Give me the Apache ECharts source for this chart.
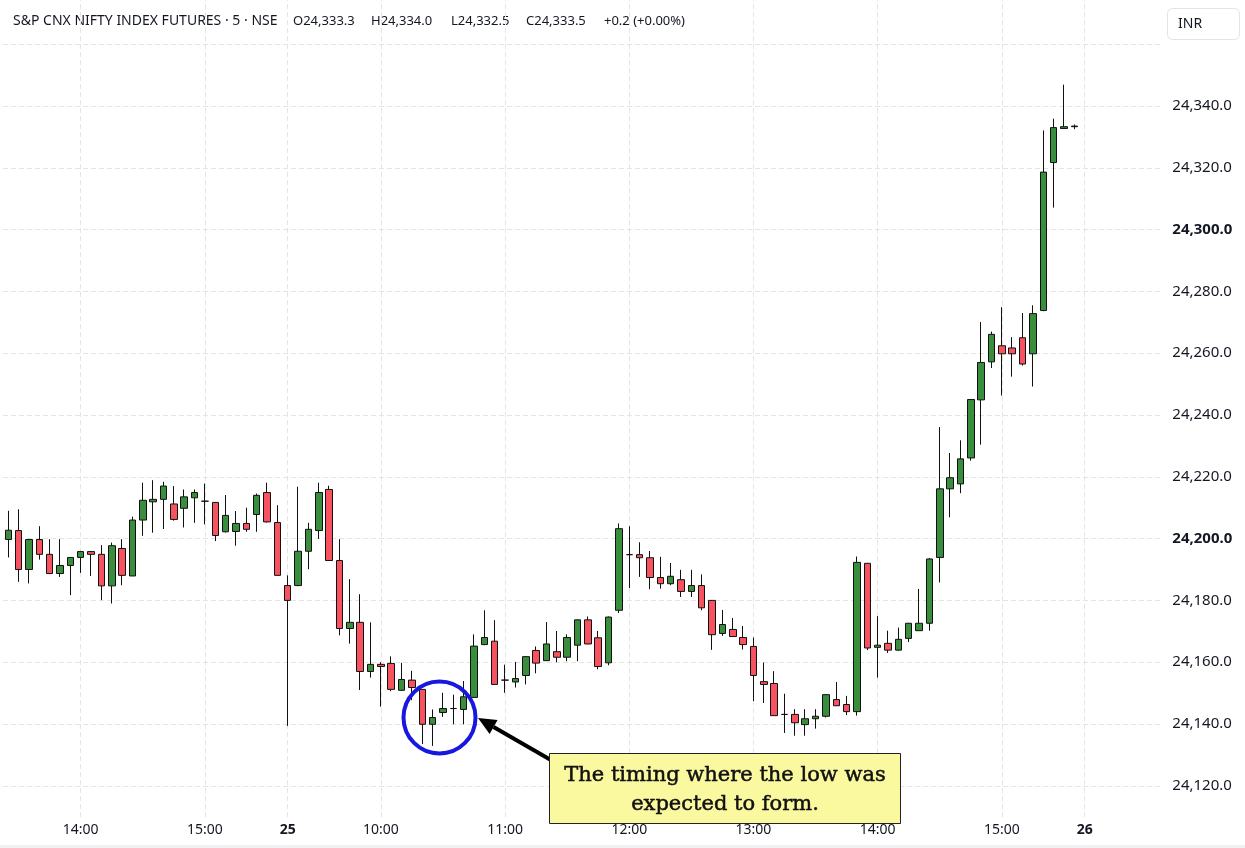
<!DOCTYPE html>
<html><head><meta charset="utf-8">
<style>html,body{margin:0;padding:0;background:#fff}#c{width:1245px;height:848px}</style>
<script src="https://cdn.jsdelivr.net/npm/echarts@6/dist/echarts.min.js"></script>
</head><body><div id="c"></div>
<script>
// sessions: [day, first bar time, number of bars]
const sessions = [['24','13:25',27],['25','09:15',77],['26','09:15',8]];
const labelTimes = ['24 14:00','24 15:00','25 09:15','25 10:00','25 11:00','25 12:00','25 13:00','25 14:00','25 15:00','26 09:15'];
const yTicks = [24120,24140,24160,24180,24200,24220,24240,24260,24280,24300,24320,24340];
const yGrid = [24120,24140,24160,24180,24200,24220,24240,24260,24280,24300,24320,24340,24360];
const lastPrice = 24333.5;
const headerParts = ['S&P CNX NIFTY INDEX FUTURES · 5 · NSE','O24,333.3','H24,334.0','L24,332.5','C24,333.5','+0.2 (+0.00%)'];

const opens = [24199.7,24202.6,24190.0,24199.7,24194.9,24188.7,24191.3,24193.9,24195.8,24194.9,
24184.7,24196.8,24187.9,24206.0,24211.9,24212.7,24211.2,24209.8,24213.2,24212.1,
24211.7,24202.2,24202.3,24204.9,24207.8,24214.9,24205.2,24184.8,24184.8,24195.9,
24202.6,24215.9,24192.9,24170.9,24172.9,24157.0,24159.3,24159.6,24150.9,24154.2,
24151.2,24139.9,24143.7,24145.0,24144.7,24148.6,24165.7,24166.8,24154.2,24153.6,
24155.7,24163.8,24160.5,24163.4,24161.6,24165.5,24173.7,24167.9,24159.8,24176.8,
24194.8,24194.8,24193.8,24187.4,24185.4,24186.7,24182.9,24184.8,24180.0,24169.3,
24170.6,24168.0,24165.1,24153.7,24153.1,24143.1,24143.1,24139.8,24141.7,24142.5,
24147.9,24146.3,24144.0,24192.0,24164.8,24166.1,24163.9,24167.7,24170.2,24172.6,
24193.9,24216.1,24217.7,24226.1,24244.9,24257.2,24262.4,24261.7,24265.0,24259.8,
24273.8,24321.7,24332.7,24333.3];
const closes = [24202.7,24190.0,24199.7,24194.9,24188.7,24191.3,24193.9,24195.8,24194.9,24184.7,
24197.7,24188.1,24206.0,24212.4,24212.7,24217.0,24206.2,24213.5,24214.9,24212.1,
24201.0,24207.5,24204.9,24203.0,24214.0,24205.4,24188.1,24180.0,24195.9,24203.0,
24214.9,24192.9,24170.9,24172.9,24157.0,24159.3,24158.6,24151.2,24154.4,24151.8,
24139.9,24142.1,24145.0,24145.0,24148.8,24165.2,24168.0,24152.8,24154.2,24154.7,
24161.8,24159.7,24165.9,24161.6,24168.0,24173.7,24165.9,24158.6,24174.6,24203.2,
24194.8,24193.8,24187.4,24185.4,24187.8,24182.9,24184.8,24177.6,24168.9,24172.2,
24168.3,24165.7,24155.7,24152.8,24142.7,24143.1,24140.4,24141.7,24142.5,24149.5,
24145.9,24144.0,24192.3,24164.6,24165.5,24163.9,24167.4,24172.6,24172.6,24193.4,
24216.1,24219.7,24225.8,24245.0,24257.0,24266.1,24259.8,24259.8,24256.5,24272.8,
24318.6,24333.0,24333.3,24333.5];
const lows = [24193.9,24186.0,24185.5,24193.2,24188.5,24187.6,24181.7,24188.9,24187.9,24180.1,
24179.0,24184.9,24187.9,24200.9,24201.9,24203.1,24205.8,24203.6,24205.1,24204.6,
24199.2,24202.0,24197.7,24202.2,24202.2,24205.2,24188.0,24139.4,24184.6,24190.1,
24199.9,24192.8,24168.7,24166.0,24151.0,24155.0,24145.6,24150.6,24150.7,24147.7,
24133.5,24132.9,24142.3,24139.9,24139.9,24148.5,24165.5,24152.7,24150.1,24151.8,
24152.8,24156.4,24160.4,24160.0,24160.3,24160.3,24165.8,24157.7,24159.0,24175.9,
24184.0,24187.6,24183.6,24183.8,24184.9,24181.1,24181.1,24176.8,24164.0,24168.5,
24168.2,24164.1,24147.4,24146.8,24142.6,24137.1,24136.2,24136.2,24138.5,24142.1,
24145.8,24142.9,24142.7,24163.9,24155.0,24163.0,24163.8,24166.5,24170.1,24170.2,
24185.8,24206.9,24214.7,24225.2,24230.4,24255.2,24246.3,24252.4,24256.0,24249.2,
24273.6,24307.1,24332.6,24332.5];
const highs = [24209.0,24209.5,24199.9,24204.0,24199.8,24199.8,24194.0,24196.0,24196.0,24197.9,
24198.7,24199.8,24207.1,24218.1,24218.9,24218.4,24217.0,24215.9,24215.9,24217.8,
24211.8,24214.1,24208.9,24210.0,24214.6,24218.1,24210.8,24188.1,24216.8,24205.1,
24218.1,24217.1,24199.8,24186.9,24182.0,24172.9,24160.0,24161.9,24159.8,24157.2,
24151.3,24144.7,24150.1,24149.5,24153.9,24169.0,24176.8,24173.6,24159.2,24160.1,
24162.0,24165.1,24173.0,24170.1,24169.0,24173.8,24174.8,24170.1,24174.8,24204.9,
24204.0,24198.8,24196.0,24194.1,24192.1,24189.9,24189.9,24188.4,24180.1,24176.9,
24174.3,24171.7,24168.0,24159.9,24157.1,24149.8,24144.8,24144.8,24144.8,24149.6,
24153.6,24149.1,24194.2,24192.1,24174.9,24170.2,24171.2,24172.7,24183.7,24193.7,
24236.1,24227.7,24231.8,24245.1,24270.1,24267.0,24274.9,24265.2,24273.0,24275.5,
24332.1,24335.9,24346.9,24334.0];

// build category keys from session structure
function pad(n){return (n<10?'0':'')+n;}
const categories = [];
sessions.forEach(([day, start, count]) => {
  let [h, m] = start.split(':').map(Number);
  let t = h*60+m;
  for (let i=0;i<count;i++){ categories.push(day+' '+pad(Math.floor(t/60))+':'+pad(t%60)); t+=5; }
});
const candleData = opens.map((o,i)=>[o, closes[i], lows[i], highs[i]]);

const fmtPrice = v => v.toLocaleString('en-US',{minimumFractionDigits:1, maximumFractionDigits:1});
const FONT = '"Noto Sans", sans-serif';
const TXT = '#131722';

// arrow geometry (annotation overlay)
const tip = [478, 718], tail = [550, 759.5];
const dx = tail[0]-tip[0], dy = tail[1]-tip[1], L = Math.hypot(dx,dy);
const ux = dx/L, uy = dy/L;
const hb = [tip[0]+ux*18, tip[1]+uy*18];
const px = -uy*8, py = ux*8;

const headerX = [13, 293, 371, 451, 526, 604];
const headerGraphics = headerParts.map((t,i) => ({
  type:'text', x: headerX[i], y: 21,
  style:{ text: t, font: (i===0 ? '14px' : '13px') + ' "Noto Sans"', fill: TXT, verticalAlign: 'middle' }
}));

const chart = echarts.init(document.getElementById('c'), null, {renderer:'canvas'});
chart.setOption({
  animation: false,
  backgroundColor: '#fff',
  grid: { left: 3.1, top: 0, width: 1159.2, bottom: 31, containLabel: false },
  xAxis: {
    type: 'category', data: categories, boundaryGap: true,
    axisLine: {show:false}, axisTick: {show:false}, splitLine: {show:false},
    axisLabel: {
      interval: (idx, val) => labelTimes.indexOf(val) >= 0,
      margin: 6, color: TXT, fontSize: 14, fontFamily: FONT,
      formatter: v => { const [d,t] = v.split(' '); return t==='09:15' ? '{b|'+d+'}' : t; },
      rich: { b: { fontWeight: 'bold', fontSize: 14, fontFamily: FONT, color: TXT } }
    }
  },
  yAxis: {
    type: 'value', position: 'right', min: 24109.9, max: 24374.3, scale: true,
    axisLine: {show:false}, axisTick: {show:false}, splitLine: {show:false},
    axisLabel: {
      customValues: yTicks, margin: 10, color: TXT, fontSize: 15, fontFamily: FONT,
      formatter: v => (Math.round(v)%100===0) ? '{b|'+fmtPrice(v)+'}' : fmtPrice(v),
      rich: { b: { fontWeight: 'bold', fontSize: 15, fontFamily: FONT, color: TXT } }
    }
  },
  series: [
    {
      type: 'line', data: [], z: 1, silent: true,
      markLine: {
        silent: true, symbol: ['none','none'], z: 1, animation: false,
        label: {show:false},
        lineStyle: { color: '#e4e4e4', width: 1, type: [5,3] },
        data: yGrid.map(v => ({yAxis: v})).concat(labelTimes.map(c => ({xAxis: c})))
      }
    },
    {
      type: 'candlestick', data: candleData, barWidth: 7, z: 3,
      itemStyle: { color: '#388e3c', color0: '#f7525f', borderColor: '#111', borderColor0: '#111', borderWidth: 1 },
      markLine: {
        silent: true, symbol: ['none','none'], z: 10, animation: false,
        lineStyle: { opacity: 0 },
        label: {
          show: true, position: 'end', distance: 1,
          formatter: () => fmtPrice(lastPrice),
          color: '#fff', fontSize: 15, fontFamily: FONT,
          backgroundColor: '#388e3c', padding: [2, 5, 2, 10], borderRadius: 1
        },
        data: [{ yAxis: lastPrice }]
      }
    }
  ],
  graphic: headerGraphics.concat([
    { type:'rect', shape:{x:1167.5,y:8.5,width:72,height:31,r:5}, style:{fill:'#fff', stroke:'#e0e3eb', lineWidth:1} },
    { type:'text', x:1178, y:24, style:{ text:'INR', font:'14px "Noto Sans"', fill:TXT, verticalAlign:'middle' } },
    { type:'circle', shape:{cx:439.5, cy:717.5, r:36}, style:{fill:'none', stroke:'#1717e0', lineWidth:4}, z: 20 },
    { type:'line', shape:{x1:tail[0], y1:tail[1], x2:hb[0], y2:hb[1]}, style:{stroke:'#000', lineWidth:4}, z: 20 },
    { type:'polygon', shape:{points:[tip, [hb[0]+px, hb[1]+py], [hb[0]-px, hb[1]-py]]}, style:{fill:'#000'}, z: 20 },
    { type:'rect', shape:{x:549.5,y:753.5,width:351,height:70}, style:{fill:'#fbf9a0', stroke:'#222', lineWidth:1}, z: 20 },
    { type:'text', x:725, y:776, style:{ text:'The timing where the low was', font:'21px "DejaVu Serif"', fill:'#111', stroke:'#111', lineWidth:0.5, align:'center', verticalAlign:'middle' }, z: 21 },
    { type:'text', x:725, y:805, style:{ text:'expected to form.', font:'21px "DejaVu Serif"', fill:'#111', stroke:'#111', lineWidth:0.5, align:'center', verticalAlign:'middle' }, z: 21 },
    { type:'rect', shape:{x:0,y:845,width:1245,height:3}, style:{fill:'#f0f1f3'} }
  ])
});
</script></body></html>
